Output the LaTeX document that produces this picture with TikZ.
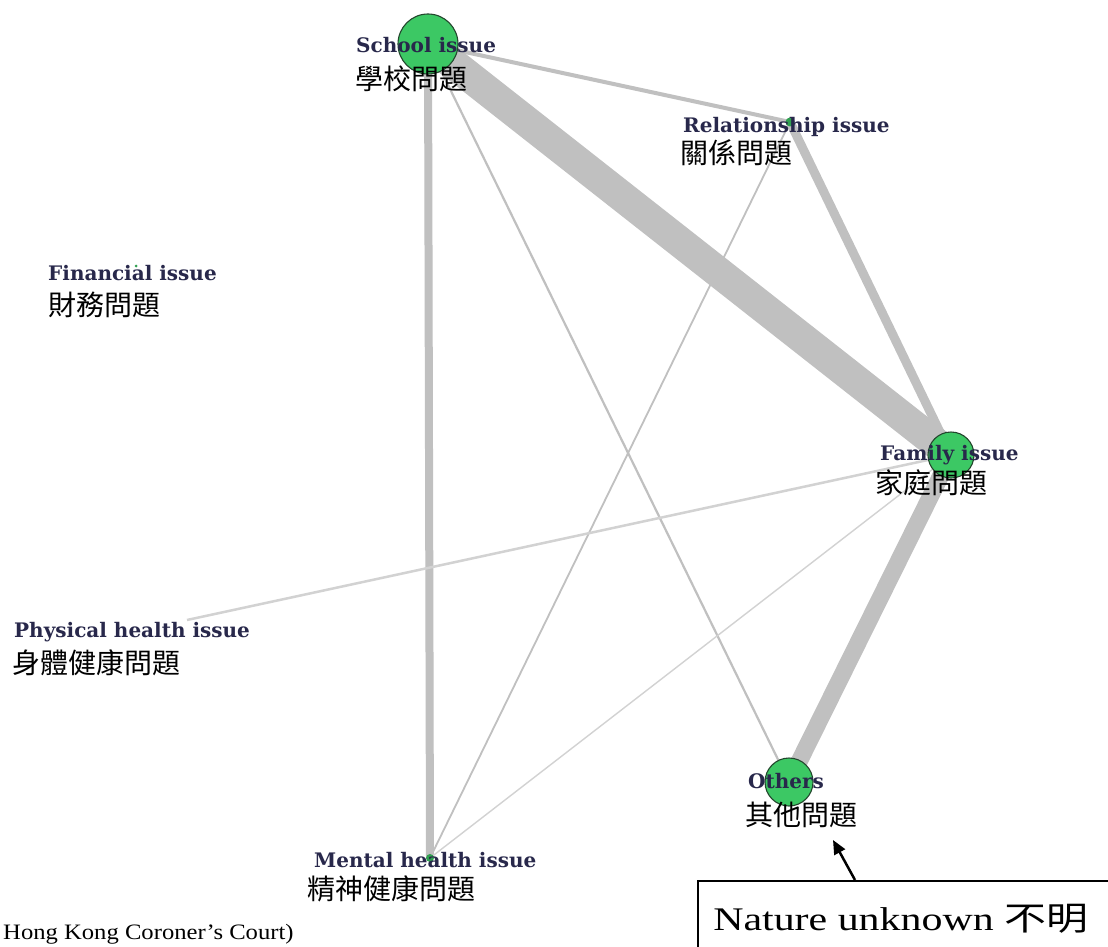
\documentclass[tikz,border=0pt]{standalone}
\usepackage{fontspec}
\setmainfont{Liberation Serif}
\newfontfamily\cjk{Noto Sans CJK TC}
\newfontfamily\labfont{DejaVu Serif}
\usetikzlibrary{arrows.meta}
\definecolor{edgegray}{RGB}{192,192,192}
\definecolor{lightedge}{RGB}{210,210,210}
\definecolor{nodegreen}{RGB}{60,200,100}
\definecolor{nodeline}{RGB}{35,70,45}
\definecolor{labnavy}{RGB}{40,40,75}
\tikzset{
  edge/.style={draw=edgegray, line cap=butt},
  bignode/.style={circle, fill=nodegreen, draw=nodeline, line width=1.1pt, inner sep=0pt},
  dotnode/.style={circle, fill=nodegreen!80!black, inner sep=0pt},
  enlab/.style={anchor=base west, inner sep=0pt, text=labnavy, font=\labfont\bfseries\fontsize{20}{24}\selectfont},
  zhlab/.style={anchor=west, inner sep=0pt, text=black, font=\cjk\fontsize{28}{32}\selectfont},
}
\begin{document}
\begin{tikzpicture}[x=1pt,y=-1pt]
\clip (0,0) rectangle (1108,947);
\fill[white] (0,0) rectangle (1108,947);
% node positions
\coordinate (S) at (428,44);
\coordinate (R) at (790,122);
\coordinate (F) at (951,455);
\coordinate (O) at (789,782);
\coordinate (M) at (430,858);
\coordinate (Fin) at (136,266);
\coordinate (P) at (187,620);
% edges
\draw[edge, line width=31pt] (S) -- (F);
\draw[edge, line width=8pt] (S) -- (M);
\draw[edge, line width=4pt] (S) -- (R);
\draw[edge, line width=2.2pt] (S) -- (O);
\draw[edge, line width=9pt] (R) -- (F);
\draw[edge, line width=1.8pt] (R) -- (M);
\draw[edge, line width=17pt] (F) -- (O);
\draw[draw=lightedge, line width=2.5pt] (F) -- (P);
\draw[draw=lightedge, line width=1.4pt] (F) -- (M);
% nodes
\node[bignode, minimum size=60pt] (Sn) at (S) {};
\node[bignode, minimum size=46pt] (Fn) at (F) {};
\node[bignode, minimum size=48pt] (On) at (O) {};
\node[dotnode, minimum size=9pt] (Rn) at (R) {};
\node[dotnode, minimum size=8pt] (Mn) at (M) {};
\node[dotnode, minimum size=3pt] (Finn) at (Fin) {};
% labels
\node[enlab] (Sl) at (356,53) {School issue};
\node[zhlab] (Sz) at (355,79) {學校問題};
\node[enlab] (Rl) at (683,132) {Relationship issue};
\node[zhlab] (Rz) at (680,153) {關係問題};
\node[enlab] (Finl) at (48,280) {Financial issue};
\node[zhlab] (Finz) at (48,305) {財務問題};
\node[enlab] (Fl) at (880,460) {Family issue};
\node[zhlab] (Fz) at (875,483) {家庭問題};
\node[enlab] (Pl) at (14,637) {Physical health issue};
\node[zhlab] (Pz) at (12,663) {身體健康問題};
\node[enlab] (Ol) at (748,788) {Others};
\node[zhlab] (Oz) at (745,815) {其他問題};
\node[enlab] (Ml) at (314,867) {Mental health issue};
\node[zhlab] (Mz) at (307,889) {精神健康問題};
% annotation box
\node[draw=black, line width=2pt, anchor=north west, minimum width=440pt, minimum height=100pt, inner sep=0pt] (box) at (697,880) {};
\node[anchor=base west, inner sep=0pt, font=\fontsize{33}{36}\selectfont, xscale=1.27] (boxtext) at (713,930) {Nature unknown {\cjk 不明}};
\coordinate (tail) at (855,880);
\coordinate (tip) at (833,840);
\draw[line width=2.5pt, -{Triangle[length=14pt,width=12pt]}] (tail) -- (tip);
% source text
\node[anchor=base west, inner sep=0pt, font=\fontsize{22}{24}\selectfont, xscale=1.12] (src) at (3,939) {Hong Kong Coroner’s Court)};
\end{tikzpicture}
\end{document}
